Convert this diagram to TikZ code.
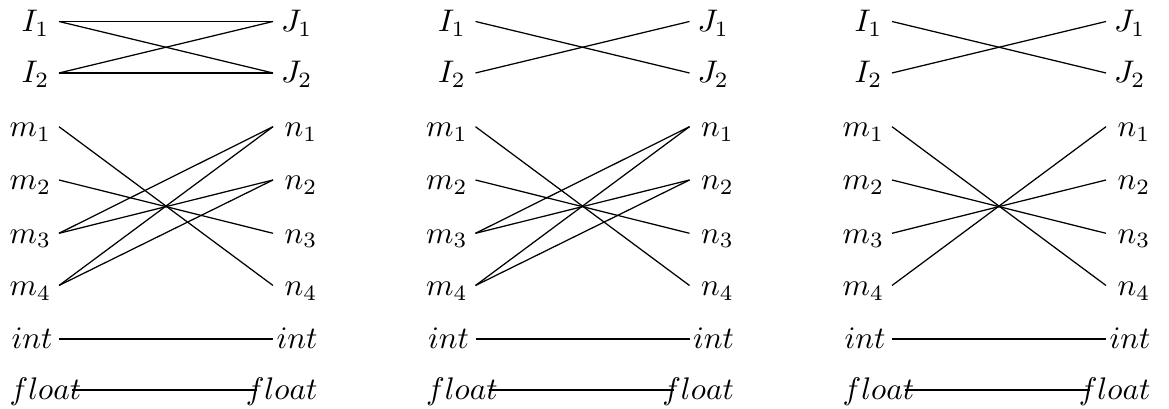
\documentclass[tikz,border=0pt]{standalone}
\begin{document}
\begin{tikzpicture}[x=0.32pt,y=-0.32pt,
  lab/.style={inner sep=0pt},
  lleft/.style={lab,anchor=base west},
  lright/.style={lab,anchor=base east},
  conn/.style={line width=0.4pt}]
\useasboundingbox (0,0) rectangle (1169,409);
\foreach \p/\X in {a/0,b/416.5,c/833}{
  % left labels
  \node[lleft] (\p LI1) at (\X+21,31.5) {$I_1$};
  \node[lleft] (\p LI2) at (\X+21,83) {$I_2$};
  \node[lleft] (\p Lm1) at (\X+9,136.7) {$m_1$};
  \node[lleft] (\p Lm2) at (\X+9,190) {$m_2$};
  \node[lleft] (\p Lm3) at (\X+9,243.3) {$m_3$};
  \node[lleft] (\p Lm4) at (\X+9,295.5) {$m_4$};
  \node[lleft] (\p Lint) at (\X+11,349) {$int$};
  \node[lleft] (\p Lfl) at (\X+9,400) {$float$};
  % right labels
  \node[lright] (\p RJ1) at (\X+313,31.5) {$J_1$};
  \node[lright] (\p RJ2) at (\X+313,83) {$J_2$};
  \node[lright] (\p Rn1) at (\X+318,136.7) {$n_1$};
  \node[lright] (\p Rn2) at (\X+318,190) {$n_2$};
  \node[lright] (\p Rn3) at (\X+318,243.3) {$n_3$};
  \node[lright] (\p Rn4) at (\X+318,295.5) {$n_4$};
  \node[lright] (\p Rint) at (\X+318,349) {$int$};
  \node[lright] (\p Rfl) at (\X+318,400) {$float$};
  % connector ends
  \coordinate (\p lI1) at (\X+59,21.5);
  \coordinate (\p lI2) at (\X+59,73);
  \coordinate (\p lm1) at (\X+59,126.7);
  \coordinate (\p lm2) at (\X+59,180);
  \coordinate (\p lm3) at (\X+59,233.3);
  \coordinate (\p lm4) at (\X+59,285.5);
  \coordinate (\p lint) at (\X+59,339);
  \coordinate (\p lfl) at (\X+72,390);
  \coordinate (\p rJ1) at (\X+273,21.5);
  \coordinate (\p rJ2) at (\X+273,73);
  \coordinate (\p rn1) at (\X+273,126.7);
  \coordinate (\p rn2) at (\X+273,180);
  \coordinate (\p rn3) at (\X+273,233.3);
  \coordinate (\p rn4) at (\X+273,285.5);
  \coordinate (\p rint) at (\X+273,339);
  \coordinate (\p rfl) at (\X+257,390);
  \draw[conn] (\p lint) -- (\p rint);
  \draw[conn] (\p lfl) -- (\p rfl);
  \draw[conn] (\p lI1) -- (\p rJ2);
  \draw[conn] (\p lI2) -- (\p rJ1);
  \draw[conn] (\p lm1) -- (\p rn4);
  \draw[conn] (\p lm2) -- (\p rn3);
}
% panel a
\draw[conn] (alI1) -- (arJ1);
\draw[conn] (alI2) -- (arJ2);
\draw[conn] (alm3) -- (arn1);
\draw[conn] (alm3) -- (arn2);
\draw[conn] (alm4) -- (arn1);
\draw[conn] (alm4) -- (arn2);
% panel b
\draw[conn] (blm3) -- (brn1);
\draw[conn] (blm3) -- (brn2);
\draw[conn] (blm4) -- (brn1);
\draw[conn] (blm4) -- (brn2);
% panel c
\draw[conn] (clm3) -- (crn2);
\draw[conn] (clm4) -- (crn1);
\end{tikzpicture}
\end{document}
